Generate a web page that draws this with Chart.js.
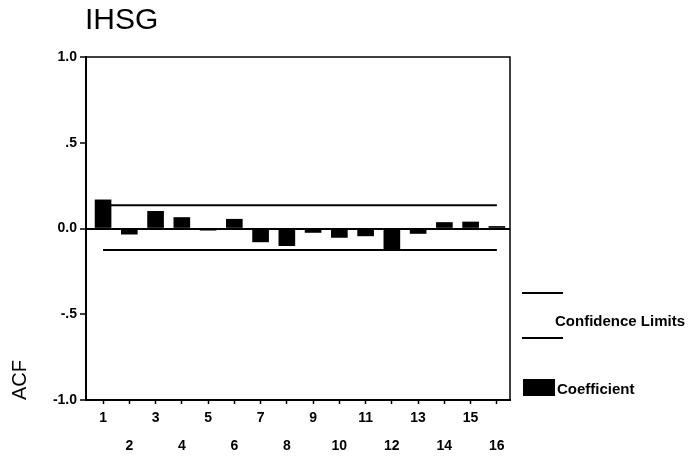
<!DOCTYPE html>
<html>
<head>
<meta charset="utf-8">
<script src="https://cdn.jsdelivr.net/npm/chart.js@4.4.1/dist/chart.umd.min.js"></script>
<style>
  html, body { margin: 0; padding: 0; background: #fff; }
  #wrap { width: 690px; height: 460px; position: relative; }
</style>
</head>
<body>
<div id="wrap"><canvas id="acf"></canvas></div>
<script>
// Lags and autocorrelation coefficients
const lags = [1, 2, 3, 4, 5, 6, 7, 8, 9, 10, 11, 12, 13, 14, 15, 16];
const coefficient = [0.167, -0.033, 0.10, 0.064, -0.01, 0.054, -0.078, -0.10,
                     -0.023, -0.052, -0.043, -0.12, -0.029, 0.035, 0.038, 0.012];
const upperLimit = [0.135, 0.135, 0.135, 0.135, 0.135, 0.135, 0.135, 0.135,
                    0.135, 0.135, 0.135, 0.135, 0.135, 0.135, 0.135, 0.135];
const lowerLimit = [-0.125, -0.125, -0.125, -0.125, -0.125, -0.125, -0.125, -0.125,
                    -0.125, -0.125, -0.125, -0.125, -0.125, -0.125, -0.125, -0.125];
const yTickValues = [-1, -0.5, 0, 0.5, 1];
const yTickLabels = ['-1.0', '-.5', '0.0', '.5', '1.0'];

const FONT = '"Liberation Sans", Arial, sans-serif';

// titulo, moldura e legenda desenhados no canvas
const decorPlugin = {
  id: 'decor',
  afterDraw(chart) {
    const { ctx, chartArea: a } = chart;
    ctx.save();
    ctx.strokeStyle = '#000';
    ctx.lineWidth = 1.5;
    ctx.strokeRect(a.left, a.top, a.right - a.left, a.bottom - a.top);

    ctx.fillStyle = '#000';
    ctx.font = '30px ' + FONT;
    ctx.textBaseline = 'middle';
    ctx.textAlign = 'left';
    ctx.fillText('IHSG', 85, 21);

    // legenda
    ctx.lineWidth = 2;
    ctx.beginPath();
    ctx.moveTo(522, 293); ctx.lineTo(563, 293);
    ctx.moveTo(522, 338); ctx.lineTo(563, 338);
    ctx.stroke();
    ctx.font = 'bold 15px ' + FONT;
    ctx.fillText('Confidence Limits', 555, 322);
    ctx.fillRect(523, 379, 32, 17);
    ctx.fillText('Coefficient', 557, 390);
    ctx.restore();
  }
};

const toPoints = arr => arr.map((v, i) => ({ x: lags[i], y: v }));

new Chart(document.getElementById('acf'), {
  data: {
    datasets: [
      {
        type: 'line',
        label: 'Upper',
        data: toPoints(upperLimit),
        borderColor: '#000',
        borderWidth: 2,
        pointRadius: 0,
        fill: false
      },
      {
        type: 'line',
        label: 'Lower',
        data: toPoints(lowerLimit),
        borderColor: '#000',
        borderWidth: 2,
        pointRadius: 0,
        fill: false
      },
      {
        type: 'bar',
        label: 'Coefficient',
        data: toPoints(coefficient),
        backgroundColor: '#000',
        borderWidth: 0,
        barThickness: 16
      }
    ]
  },
  options: {
    responsive: true,
    maintainAspectRatio: false,
    animation: false,
    layout: { padding: { top: 57, right: 180, left: 0, bottom: 0 } },
    plugins: {
      legend: { display: false },
      tooltip: { enabled: false }
    },
    scales: {
      x: {
        type: 'linear',
        offset: false,
        min: 0.35,
        max: 16.5,
        afterFit: s => { s.height = 60; },
        border: { color: '#000', width: 2 },
        grid: { offset: false, drawOnChartArea: false, tickLength: 4, tickColor: '#000', tickWidth: 1.5 },
        ticks: {
          stepSize: 1,
          includeBounds: false,
          autoSkip: false,
          maxRotation: 0,
          padding: 0,
          color: '#000',
          font: { family: FONT, size: 14, weight: 'bold', lineHeight: 2 },
          callback: v => {
            if (!lags.includes(v)) return '';
            return v % 2 === 1 ? [String(v), ''] : ['', String(v)];
          }
        }
      },
      y: {
        min: -1,
        max: 1,
        afterFit: s => { s.width = 86; },
        afterBuildTicks: s => { s.ticks = yTickValues.map(v => ({ value: v })); },
        border: { color: '#000', width: 2 },
        grid: {
          color: c => (c.tick && c.tick.value === 0 ? '#000' : 'rgba(0,0,0,0)'),
          lineWidth: 2,
          tickLength: 6,
          tickColor: '#000',
          tickWidth: 1.5
        },
        title: {
          display: true,
          text: 'ACF',
          align: 'start',
          color: '#000',
          font: { family: FONT, size: 20 },
          padding: { top: 8, bottom: 0 }
        },
        ticks: {
          padding: 3,
          color: '#000',
          font: { family: FONT, size: 14, weight: 'bold' },
          callback: v => {
            const i = yTickValues.indexOf(v);
            return i >= 0 ? yTickLabels[i] : '';
          }
        }
      }
    }
  },
  plugins: [decorPlugin]
});
</script>
</body>
</html>
